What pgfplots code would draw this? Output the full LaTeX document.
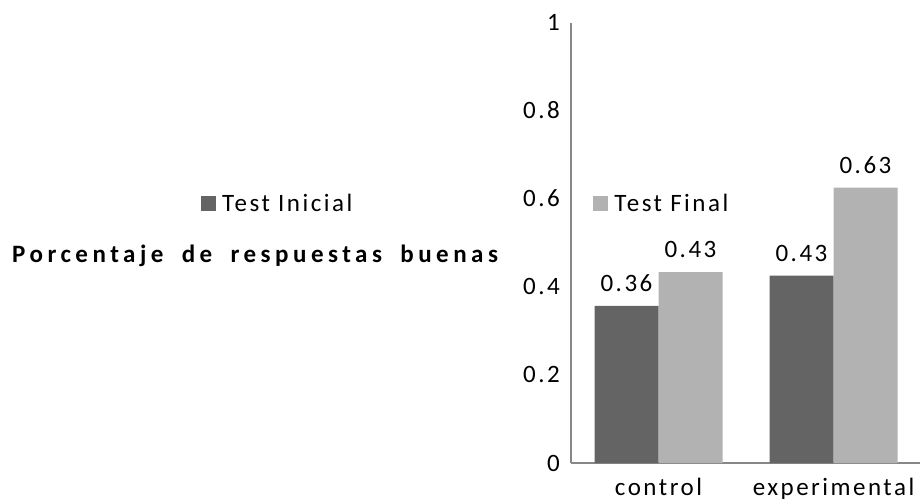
\documentclass[border=0pt]{standalone}
\usepackage{pgfplots}
\pgfplotsset{compat=1.18}
\usepackage{fontspec}
\setmainfont{Carlito}[LetterSpace=10]
\newfontfamily\titlefont{Carlito}[LetterSpace=18, WordSpace=1.8]
\definecolor{darkbar}{HTML}{646464}
\definecolor{lightbar}{HTML}{B2B2B2}
\definecolor{axisgray}{HTML}{878787}
\newcommand{\chartfont}{\fontsize{25bp}{29bp}\selectfont}
\begin{document}
\begin{tikzpicture}
\useasboundingbox (0,0) rectangle (920bp,500bp);
\begin{axis}[
  at={(571bp,37bp)}, anchor=south west,
  x=175bp, y=440bp,
  xmin=-0.5, xmax=1.5, ymin=0, ymax=1,
  ybar=0pt, bar width=64bp,
  axis lines*=left,
  axis line style={draw=axisgray, line width=1.5bp},
  major tick length=0pt,
  xtick={0,1}, xticklabels={control,experimental},
  ytick={0,0.2,0.4,0.6,0.8,1},
  yticklabels={0,0.2,0.4,0.6,0.8,1},
  tick label style={font=\chartfont, text=black},
  yticklabel style={anchor=base east, inner sep=0pt, xshift=-11bp, yshift=-8bp},
  xticklabel style={anchor=base, inner sep=0pt, yshift=-32bp},
  nodes near coords,
  nodes near coords style={font=\chartfont, text=black,
    /pgf/number format/fixed, /pgf/number format/precision=2,
    /pgf/number format/fixed zerofill, /pgf/number format/assume math mode=true},
  every node near coord/.append style={anchor=base, inner sep=0pt, yshift=14.5bp},
  legend columns=2,
  legend style={at={(axis description cs:-1.057,0.589)}, anchor=west,
    draw=none, fill=none, inner sep=0pt, font=\chartfont,
    nodes={inner sep=0pt},
    /tikz/every odd column/.append style={column sep=6bp},
    /tikz/every even column/.append style={column sep=241bp}},
  legend image code/.code={\fill[#1,draw=none] (0bp,-7.5bp) rectangle (15bp,7.5bp);},
  clip=false,
]
\addplot[fill=darkbar, draw=none] coordinates {(0,0.357) (1,0.426)};
\addplot[fill=lightbar, draw=none] coordinates {(0,0.434) (1,0.626)};
\legend{Test Inicial, Test Final}
\end{axis}
\node[anchor=base west, inner sep=0pt, font=\titlefont\bfseries\chartfont] at (12bp,237bp) {Porcentaje de respuestas buenas};
\end{tikzpicture}
\end{document}
